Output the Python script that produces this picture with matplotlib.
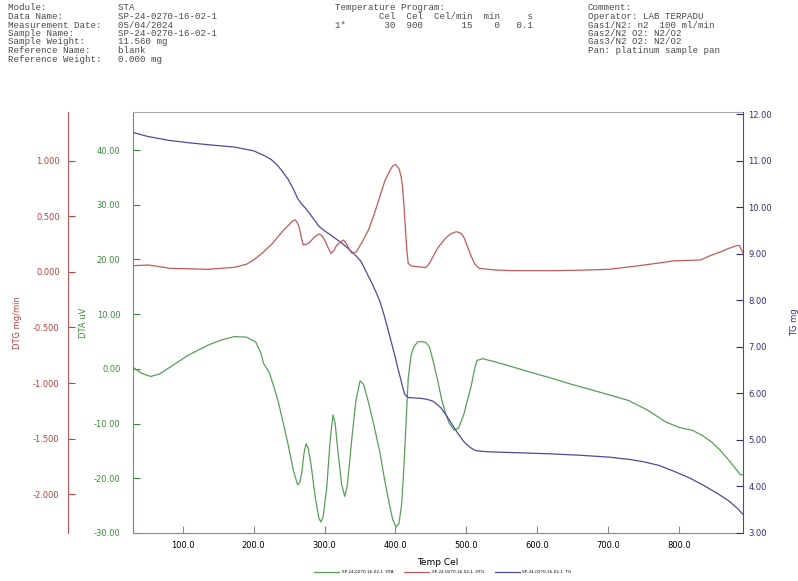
import matplotlib
matplotlib.use("Agg")
import matplotlib.pyplot as plt

# ---- data ----
dta_temp = [31, 42, 55, 68, 82, 108, 135, 155, 173, 190, 203, 210, 214, 222, 228, 235,
            242, 249, 256, 262, 265, 268, 271, 274, 277, 281, 287, 292, 295, 298, 303,
            308, 312, 315, 319, 324, 328.5, 332, 338, 344, 350, 355, 362, 370, 378, 385,
            391, 396, 401, 405, 408.5, 411, 413, 416, 418, 422, 426, 431, 437, 443, 448,
            453, 459, 465, 470, 476, 483, 489, 496, 502, 507, 512, 515, 523, 540, 566,
            590, 620, 645, 674, 700, 728, 755, 781, 800, 819, 833, 846, 858, 870, 880,
            886, 890]
dta_uv = [0.2, -0.8, -1.4, -0.9, 0.3, 2.5, 4.3, 5.3, 5.9, 5.8, 4.9, 3.0, 1.0, -0.6, -3.0,
          -6.1, -10.0, -14.0, -18.5, -21.2, -20.8, -19.0, -15.5, -13.7, -14.5, -17.5,
          -23.5, -27.3, -28.0, -27.0, -21.9, -13.0, -8.4, -10.0, -15.2, -21.0, -23.3,
          -21.5, -13.4, -6.0, -2.2, -2.8, -6.1, -10.5, -15.2, -20.5, -24.4, -27.5, -28.9,
          -28.2, -25.0, -20.0, -15.2, -7.0, -1.8, 2.5, 4.0, 4.9, 5.0, 4.8, 4.0, 1.5, -1.8,
          -5.5, -7.9, -10.0, -11.2, -10.8, -8.5, -5.5, -3.0, 0.2, 1.55, 1.85, 1.3, 0.33,
          -0.6, -1.7, -2.7, -3.75, -4.7, -5.76, -7.5, -9.7, -10.7, -11.25, -12.2, -13.4,
          -14.9, -16.7, -18.3, -19.3, -19.4]

tg_temp = [31, 50, 82, 110, 136, 173, 200, 216, 225, 233, 241, 249, 256, 262, 267, 273,
           282, 292, 300, 308, 316, 324, 332, 340, 346, 351, 356, 362, 368, 373, 378, 384,
           389, 395, 400, 404, 407, 410, 413, 418, 428, 437, 445, 453, 459, 464, 472, 480,
           488, 496, 505, 513, 525, 539, 580, 620, 660, 701, 730, 750, 772, 792, 815, 836,
           855, 870, 882, 890]
tg_mg = [11.60, 11.52, 11.43, 11.38, 11.34, 11.29, 11.21, 11.10, 11.02, 10.91, 10.76,
         10.59, 10.39, 10.19, 10.08, 9.98, 9.80, 9.59, 9.49, 9.41, 9.32, 9.23, 9.13, 9.02,
         8.93, 8.84, 8.70, 8.51, 8.33, 8.16, 7.98, 7.68, 7.40, 7.05, 6.76, 6.50, 6.33,
         6.14, 5.98, 5.91, 5.90, 5.89, 5.87, 5.83, 5.76, 5.69, 5.52, 5.33, 5.14, 4.97,
         4.84, 4.77, 4.75, 4.74, 4.72, 4.70, 4.67, 4.63, 4.58, 4.53, 4.45, 4.33, 4.18,
         4.01, 3.84, 3.69, 3.53, 3.40]

dtg_temp = [31, 52, 82, 135, 173, 190, 200, 214, 227, 240, 249, 255, 258.5, 261, 264, 267,
            270, 274, 278, 285, 292, 296, 300, 305, 309, 313, 316, 322, 327, 332, 336, 339,
            345, 353, 362, 370, 378, 385, 391, 396, 400, 405, 408, 410, 412, 414.5, 416,
            418, 422, 429, 437, 443, 448, 453, 460, 470, 478, 486, 492, 496, 501, 507, 512,
            518, 540, 566, 620, 660, 701, 744, 770, 792, 815, 830, 846, 860, 870, 880, 885,
            890]
dtg_rate = [0.057, 0.063, 0.033, 0.024, 0.042, 0.07, 0.108, 0.18, 0.26, 0.36, 0.42, 0.46,
            0.47, 0.45, 0.41, 0.32, 0.243, 0.25, 0.26, 0.31, 0.342, 0.33, 0.288, 0.22, 0.168,
            0.19, 0.228, 0.27, 0.288, 0.243, 0.19, 0.168, 0.183, 0.27, 0.378, 0.52, 0.678,
            0.82, 0.90, 0.955, 0.97, 0.93, 0.86, 0.77, 0.6, 0.35, 0.2, 0.078, 0.055, 0.048,
            0.045, 0.039, 0.08, 0.138, 0.22, 0.30, 0.345, 0.363, 0.35, 0.318, 0.24, 0.138,
            0.07, 0.033, 0.018, 0.012, 0.012, 0.016, 0.024, 0.057, 0.08, 0.10, 0.105, 0.108,
            0.153, 0.185, 0.213, 0.235, 0.24, 0.17]

x_ticks = [100, 200, 300, 400, 500, 600, 700, 800]
dta_ticks = [-30, -20, -10, 0, 10, 20, 30, 40]
dtg_ticks = [-2.0, -1.5, -1.0, -0.5, 0.0, 0.5, 1.0]
tg_ticks = [3, 4, 5, 6, 7, 8, 9, 10, 11, 12]

header_left = ["Module:             STA",
               "Data Name:          SP-24-0270-16-02-1",
               "Measurement Date:   05/04/2024",
               "Sample Name:        SP-24-0270-16-02-1",
               "Sample Weight:      11.560 mg",
               "Reference Name:     blank",
               "Reference Weight:   0.000 mg"]
header_mid = ["Temperature Program:",
              "        Cel  Cel  Cel/min  min     s",
              "1*       30  900       15    0   0.1"]
header_right = ["Comment:",
                "Operator: LAB TERPADU",
                "Gas1/N2: n2  100 ml/min",
                "Gas2/N2 O2: N2/O2",
                "Gas3/N2 O2: N2/O2",
                "Pan: platinum sample pan"]

green = '#5a9e5a'
red = '#c25a5a'
blue = '#4b4b9e'
green_txt = '#3c8a3c'
red_txt = '#bf3f3f'
blue_txt = '#2e2e7e'

W, H = 798, 581
fig = plt.figure(figsize=(W / 100, H / 100), dpi=100)
ax = fig.add_axes([133 / W, 1 - 533 / H, 610 / W, 421 / H])
ax_tg = ax.twinx()
ax_dtg = ax.twinx()

ax.plot(dta_temp, dta_uv, color=green, lw=0.9, label='SP-24-0270-16-02-1  DTA')
ax_dtg.plot(dtg_temp, dtg_rate, color=red, lw=0.9, label='SP-24-0270-16-02-1  DTG')
ax_tg.plot(tg_temp, tg_mg, color=blue, lw=0.9, label='SP-24-0270-16-02-1  TG')

ax.set_xlim(30, 890)
ax.set_ylim(-30, 46.95)
ax_tg.set_ylim(3.02, 12.043)
ax_dtg.set_ylim(-2.351, 1.441)

# x axis
ax.set_xticks(x_ticks)
ax.set_xticklabels([f"{v:.1f}" for v in x_ticks])
ax.tick_params(axis='x', direction='in', length=5, pad=6, labelsize=6, color='#888888')
ax.set_xlabel('Temp Cel', fontsize=6.5)
ax.xaxis.set_label_coords(0.5, -0.06)

# DTA (green, left)
ax.set_yticks(dta_ticks)
ax.set_yticklabels([f"{v:.2f}" for v in dta_ticks])
ax.tick_params(axis='y', direction='in', length=5, pad=9, labelsize=6,
               colors=green_txt)
ax.set_ylabel('DTA uV', color=green_txt, fontsize=6)
ax.yaxis.set_label_coords(-0.074, 0.5)

# DTG (red, offset left)
ax_dtg.spines['left'].set_position(('axes', -0.1066))
ax_dtg.spines['left'].set_visible(True)
ax_dtg.yaxis.set_label_position('left')
ax_dtg.yaxis.set_ticks_position('left')
ax_dtg.set_yticks(dtg_ticks)
ax_dtg.set_yticklabels([f"{v:.3f}" for v in dtg_ticks])
ax_dtg.tick_params(axis='y', direction='in', length=5, pad=6, labelsize=6,
                   colors=red_txt)
ax_dtg.set_ylabel('DTG mg/min', color=red_txt, fontsize=6)
ax_dtg.yaxis.set_label_coords(-0.182, 0.5)

# TG (blue, right)
ax_tg.set_yticks(tg_ticks)
ax_tg.set_yticklabels([f"{v:.2f}" for v in tg_ticks])
ax_tg.tick_params(axis='y', direction='in', length=5, pad=4, labelsize=6,
                  colors=blue_txt)
ax_tg.set_ylabel('TG mg', color=blue_txt, fontsize=6)
ax_tg.yaxis.set_label_coords(1.077, 0.5)

# spines
for a in (ax_tg, ax_dtg):
    a.spines['top'].set_visible(False)
    a.spines['bottom'].set_visible(False)
ax_tg.spines['left'].set_visible(False)
ax_dtg.spines['right'].set_visible(False)
ax.spines['right'].set_visible(False)
ax.spines['top'].set_color('#aaaaaa')
ax.spines['bottom'].set_color('#888888')
ax.spines['left'].set_color(green)
ax_dtg.spines['left'].set_color(red)
ax_tg.spines['right'].set_color(blue)
for a in (ax, ax_tg, ax_dtg):
    for s in a.spines.values():
        s.set_linewidth(0.8)

# header block
mono = dict(family='Liberation Mono', fontsize=6.6, color='#4a4a4a', va='center')
for i, line in enumerate(header_left):
    fig.text(8 / W, 1 - (8 + 8.5 * i) / H, line, **mono)
for i, line in enumerate(header_mid):
    fig.text(335 / W, 1 - (8 + 8.5 * i) / H, line, **mono)
for i, line in enumerate(header_right):
    fig.text(588 / W, 1 - (8 + 8.5 * i) / H, line, **mono)

# legend
handles = ax.get_lines() + ax_dtg.get_lines() + ax_tg.get_lines()
fig.legend(handles, [h.get_label() for h in handles], loc='center',
           bbox_to_anchor=(443 / W, 1 - 572 / H), ncol=3, frameon=False,
           fontsize=3, handlelength=6, handletextpad=0.6, columnspacing=2.6)

fig.savefig('out.png', dpi=100)
